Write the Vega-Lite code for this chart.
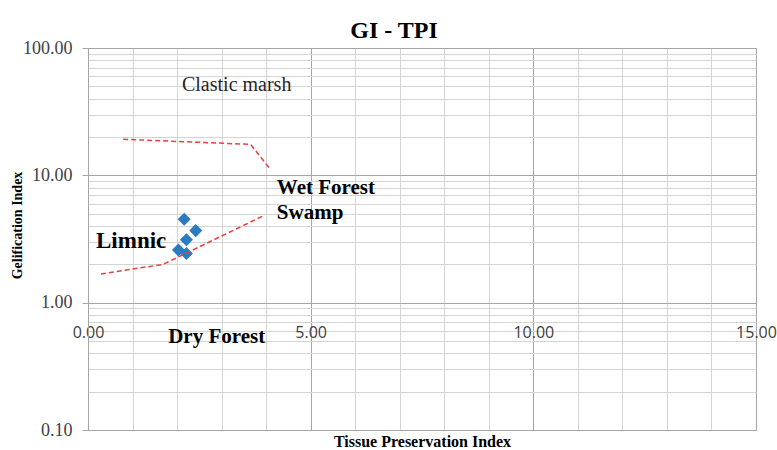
{
  "$schema": "https://vega.github.io/schema/vega-lite/v6.json",
  "width": 668,
  "height": 382,
  "autosize": "none",
  "padding": {"left": 88, "top": 48, "right": 21, "bottom": 20},
  "background": "white",
  "config": {"view": {"stroke": "#a6a6a6", "strokeWidth": 1}},
  "title": {"text": "GI - TPI", "font": "Liberation Serif", "fontSize": 24, "fontWeight": "bold", "color": "#000000", "anchor": "middle", "frame": "group", "dx": -28, "dy": 29, "baseline": "alphabetic", "offset": 6},
  "datasets": {
    "samples": [
      {"tpi": 2.16, "gi": 4.52},
      {"tpi": 2.42, "gi": 3.68},
      {"tpi": 2.21, "gi": 3.12},
      {"tpi": 2.03, "gi": 2.59},
      {"tpi": 2.21, "gi": 2.43}
    ],
    "boundaries": [
      {"boundary": "upper", "seq": 1, "tpi": 0.79, "gi": 19.2},
      {"boundary": "upper", "seq": 2, "tpi": 3.65, "gi": 17.5},
      {"boundary": "upper", "seq": 3, "tpi": 4.09, "gi": 11.2},
      {"boundary": "lower", "seq": 1, "tpi": 0.29, "gi": 1.68},
      {"boundary": "lower", "seq": 2, "tpi": 1.69, "gi": 2.0},
      {"boundary": "lower", "seq": 3, "tpi": 3.94, "gi": 4.82}
    ],
    "regular_labels": [
      {"label": "Clastic marsh", "tpi": 2.11, "gi": 46.3}
    ],
    "bold_labels": [
      {"label": "Wet Forest", "tpi": 4.24, "gi": 7.14},
      {"label": "Swamp", "tpi": 4.24, "gi": 4.55},
      {"label": "Dry Forest", "tpi": 1.8, "gi": 0.482}
    ],
    "big_labels": [
      {"label": "Limnic", "tpi": 0.18, "gi": 2.68}
    ]
  },
  "encoding": {
    "x": {
      "field": "tpi",
      "type": "quantitative",
      "scale": {"domain": [0, 15], "nice": false, "zero": false},
      "axis": {
        "title": "Tissue Preservation Index",
        "values": [0, 1, 2, 3, 4, 5, 6, 7, 8, 9, 10, 11, 12, 13, 14, 15],
        "labelExpr": "datum.value % 5 === 0 ? format(datum.value, '.2f') : ''",
        "labelFont": "Open Sans",
        "labelFontSize": 16,
        "labelColor": "#404040",
        "labelPadding": 0,
        "ticks": false,
        "tickSize": 0,
        "domain": false,
        "offset": -105.5,
        "labelOverlap": false,
        "labelBound": false,
        "labelFlush": false,
        "grid": true,
        "gridWidth": 1,
        "gridColor": {"condition": {"test": "datum.value % 5 === 0", "value": "#a6a6a6"}, "value": "#d4d4d4"},
        "titleFont": "Liberation Serif",
        "titleFontSize": 16,
        "titleFontWeight": "bold",
        "titleColor": "#000000",
        "titleY": 122,
        "titleBaseline": "alphabetic"
      }
    },
    "y": {
      "field": "gi",
      "type": "quantitative",
      "scale": {"type": "log", "domain": [0.1, 100], "nice": false},
      "axis": {
        "title": "Gelification Index",
        "values": [0.1, 0.2, 0.3, 0.4, 0.5, 0.6, 0.7, 0.8, 0.9, 1, 2, 3, 4, 5, 6, 7, 8, 9, 10, 20, 30, 40, 50, 60, 70, 80, 90, 100],
        "labelExpr": "indexof([0.1, 1, 10, 100], datum.value) >= 0 ? format(datum.value, '.2f') : ''",
        "labelFont": "Liberation Serif",
        "labelFontSize": 18,
        "labelColor": "#404040",
        "labelPadding": 10,
        "labelOverlap": false,
        "labelBound": false,
        "labelFlush": false,
        "tickSize": 6,
        "tickColor": {"condition": {"test": "indexof([0.1, 1, 10, 100], datum.value) >= 0", "value": "#a6a6a6"}, "value": "transparent"},
        "domainColor": "#a6a6a6",
        "grid": true,
        "gridWidth": 1,
        "gridColor": {"condition": {"test": "indexof([0.1, 1, 10, 100], datum.value) >= 0", "value": "#a6a6a6"}, "value": "#d4d4d4"},
        "titleFont": "Liberation Serif",
        "titleFontSize": 14,
        "titleFontWeight": "bold",
        "titleColor": "#000000",
        "titleAngle": -90,
        "titleX": -71,
        "titleY": 177,
        "titleAlign": "center",
        "titleBaseline": "middle"
      }
    }
  },
  "layer": [
    {
      "data": {"name": "samples"},
      "mark": {"type": "point", "shape": "diamond", "filled": true, "size": 170, "color": "#2a7bc2", "opacity": 1}
    },
    {
      "data": {"name": "boundaries"},
      "mark": {"type": "line", "color": "#ee3e3e", "strokeWidth": 1.5, "strokeDash": [5, 3]},
      "encoding": {
        "detail": {"field": "boundary", "type": "nominal"},
        "order": {"field": "seq", "type": "quantitative"}
      }
    },
    {
      "data": {"name": "regular_labels"},
      "mark": {"type": "text", "align": "left", "baseline": "alphabetic", "font": "Liberation Serif", "fontSize": 20, "color": "#262626"},
      "encoding": {"text": {"field": "label", "type": "nominal"}}
    },
    {
      "data": {"name": "bold_labels"},
      "mark": {"type": "text", "align": "left", "baseline": "alphabetic", "font": "Liberation Serif", "fontSize": 21, "fontWeight": "bold", "color": "#000000"},
      "encoding": {"text": {"field": "label", "type": "nominal"}}
    },
    {
      "data": {"name": "big_labels"},
      "mark": {"type": "text", "align": "left", "baseline": "alphabetic", "font": "Liberation Serif", "fontSize": 23, "fontWeight": "bold", "color": "#000000"},
      "encoding": {"text": {"field": "label", "type": "nominal"}}
    }
  ]
}
